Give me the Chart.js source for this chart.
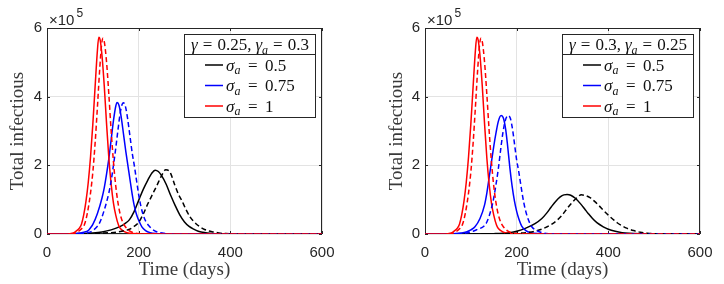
<!DOCTYPE html>
<html>
<head>
<meta charset="utf-8">
<script src="https://cdn.jsdelivr.net/npm/chart.js@4/dist/chart.umd.min.js"></script>
<style>
  html, body { margin: 0; padding: 0; background: #fff; }
  #wrap { position: relative; width: 724px; height: 284px; }
  .panel { position: absolute; top: 0; width: 362px; height: 284px; }
</style>
</head>
<body>
<div id="wrap">
  <div class="panel" style="left:0"><canvas id="left" width="362" height="284"></canvas></div>
  <div class="panel" style="left:362px"><canvas id="right" width="362" height="284"></canvas></div>
</div>
<script>
// values are [day, total infectious / 1e5]
const blackSolidA = [[0,0],[40,0],[60,0.01],[80,0.015],[100,0.03],[120,0.06],[140,0.12],[160,0.22],[170,0.3],[180,0.42],[190,0.65],[200,0.98],[210,1.3],[220,1.57],[228,1.76],[236,1.86],[243,1.82],[250,1.7],[260,1.45],[270,1.12],[280,0.82],[290,0.55],[300,0.35],[310,0.22],[320,0.14],[330,0.08],[340,0.05],[360,0.015],[380,0.003],[400,0],[600,0]];
const blackDashA = [[0,0],[60,0],[80,0.01],[100,0.015],[120,0.025],[140,0.04],[160,0.07],[170,0.1],[180,0.14],[190,0.22],[200,0.34],[210,0.58],[220,0.88],[230,1.15],[240,1.42],[250,1.7],[259,1.87],[266,1.84],[270,1.76],[279,1.42],[287,1.15],[294,0.98],[303,0.72],[312,0.5],[325,0.3],[341,0.15],[350,0.1],[360,0.065],[375,0.032],[390,0.014],[410,0.004],[430,0],[600,0]];
const blueSolidA = [[0,0],[50,0],[60,0.01],[80,0.05],[90,0.1],[95,0.18],[100,0.28],[110,0.6],[120,1.05],[125,1.35],[130,1.75],[135,2.2],[140,2.75],[145,3.3],[150,3.72],[153,3.83],[157,3.75],[162,3.4],[167,2.9],[172,2.4],[177,1.95],[182,1.5],[186,1.15],[190,0.85],[195,0.58],[200,0.4],[207,0.21],[215,0.1],[225,0.04],[240,0.01],[260,0],[600,0]];
const blueDashA = [[0,0],[60,0],[70,0.01],[90,0.04],[100,0.1],[109,0.21],[115,0.33],[125,0.7],[135,1.2],[140,1.55],[145,2.0],[150,2.5],[155,3.05],[160,3.55],[164,3.78],[167,3.82],[171,3.72],[176,3.35],[181,2.85],[186,2.35],[191,1.95],[196,1.5],[200,1.15],[205,0.8],[210,0.55],[215,0.38],[225,0.2],[235,0.09],[245,0.04],[260,0.012],[280,0],[600,0]];
const redSolidA = [[0,0],[45,0],[55,0.02],[60,0.05],[65,0.1],[70,0.16],[75,0.28],[80,0.55],[85,0.95],[90,1.5],[95,2.25],[100,3.2],[105,4.3],[110,5.35],[113,5.73],[116,5.65],[120,5.2],[125,4.3],[130,3.2],[135,2.2],[140,1.45],[145,0.9],[150,0.55],[156,0.26],[160,0.16],[170,0.06],[180,0.02],[200,0.003],[220,0],[600,0]];
const redDashA = [[0,0],[50,0],[60,0.02],[65,0.05],[70,0.09],[75,0.15],[80,0.22],[85,0.42],[90,0.75],[95,1.2],[100,1.8],[105,2.65],[110,3.7],[115,4.8],[119,5.5],[122,5.7],[125,5.6],[130,5.0],[135,4.05],[140,3.0],[145,2.1],[150,1.4],[155,0.9],[160,0.56],[166,0.32],[171,0.21],[180,0.09],[190,0.035],[205,0.008],[220,0],[600,0]];

const blackSolidB = [[0,0],[100,0],[130,0.005],[150,0.01],[170,0.02],[185,0.04],[200,0.08],[220,0.17],[240,0.3],[255,0.45],[265,0.6],[275,0.78],[285,0.95],[295,1.08],[303,1.14],[310,1.15],[318,1.13],[328,1.04],[340,0.87],[350,0.7],[356,0.6],[365,0.46],[375,0.33],[389,0.21],[400,0.14],[415,0.08],[430,0.04],[445,0.02],[470,0.005],[500,0],[600,0]];
const blackDashB = [[0,0],[130,0],[160,0.005],[180,0.01],[200,0.02],[220,0.04],[240,0.08],[255,0.14],[265,0.2],[276,0.28],[288,0.4],[298,0.53],[310,0.74],[320,0.9],[330,1.04],[341,1.14],[350,1.12],[360,1.06],[370,0.95],[380,0.82],[390,0.68],[400,0.55],[410,0.43],[420,0.32],[430,0.24],[440,0.17],[455,0.1],[470,0.05],[485,0.025],[500,0.01],[520,0.002],[540,0],[600,0]];
const blueSolidB = [[0,0],[50,0],[60,0.01],[80,0.03],[90,0.06],[100,0.12],[109,0.21],[120,0.45],[130,0.85],[135,1.2],[140,1.65],[145,2.1],[150,2.55],[155,2.95],[160,3.28],[166,3.45],[171,3.38],[176,3.05],[180,2.6],[185,1.95],[190,1.4],[195,0.97],[200,0.66],[205,0.43],[211,0.23],[220,0.1],[230,0.04],[250,0.01],[280,0],[600,0]];
const blueDashB = [[0,0],[60,0],[70,0.01],[90,0.03],[105,0.08],[115,0.14],[127,0.21],[135,0.35],[145,0.75],[150,1.05],[155,1.45],[160,1.9],[165,2.45],[170,2.95],[175,3.3],[181,3.45],[186,3.38],[191,3.05],[196,2.55],[200,2.15],[204,1.86],[210,1.35],[215,0.95],[220,0.65],[226,0.4],[233,0.21],[245,0.09],[255,0.04],[270,0.01],[290,0],[600,0]];
const redSolidB = [[0,0],[45,0],[55,0.02],[60,0.05],[65,0.1],[70,0.16],[75,0.28],[80,0.55],[85,0.95],[90,1.5],[95,2.25],[100,3.2],[105,4.3],[110,5.35],[113,5.73],[116,5.65],[120,5.2],[125,4.3],[130,3.2],[135,2.2],[140,1.45],[145,0.9],[150,0.55],[156,0.26],[160,0.16],[170,0.06],[180,0.02],[200,0.003],[220,0],[600,0]];
const redDashB = [[0,0],[50,0],[60,0.02],[65,0.05],[70,0.09],[75,0.15],[80,0.22],[85,0.42],[90,0.75],[95,1.2],[100,1.8],[105,2.65],[110,3.7],[115,4.8],[119,5.5],[122,5.7],[125,5.6],[130,5.0],[135,4.05],[140,3.0],[145,2.1],[150,1.4],[155,0.9],[160,0.56],[166,0.32],[171,0.21],[180,0.09],[190,0.035],[205,0.008],[220,0],[600,0]];

const xTicks = [0, 200, 400, 600];
const yTicks = [0, 2, 4, 6];
const sigmaLabels = ['0.5', '0.75', '1'];
const gammaA = ['0.25', '0.3'];
const gammaB = ['0.3', '0.25'];
const colors = ['#000000', '#0000ff', '#ff0000'];

const axisColor = '#262626';
const sans = '"Liberation Sans", Arial, sans-serif';
const serif = '"Liberation Serif", "Times New Roman", serif';
const MS = 17;   // legend math font size

// parts: [kind, text]; kind i = italic, r = roman, s = italic subscript, g = gap in px
function mathFont(kind, size) {
  if (kind === 'r') return size + 'px ' + serif;
  if (kind === 's') return 'italic ' + Math.round(size * 0.7) + 'px ' + serif;
  return 'italic ' + size + 'px ' + serif;
}
function partWidth(ctx, k, t, size) {
  if (k === 'g') return t;
  ctx.font = mathFont(k, size);
  return ctx.measureText(t).width;
}
function mathWidth(ctx, parts, size) {
  return parts.reduce((w, [k, t]) => w + partWidth(ctx, k, t, size), 0);
}
function drawMath(ctx, parts, x, y, size) {
  ctx.textBaseline = 'alphabetic';
  ctx.textAlign = 'left';
  for (const [k, t] of parts) {
    if (k !== 'g') {
      ctx.font = mathFont(k, size);
      ctx.fillText(t, x, k === 's' ? y + size * 0.22 : y);
    }
    x += partWidth(ctx, k, t, size);
  }
}

const frame = {
  id: 'frame',
  beforeDatasetsDraw(chart) {
    const {ctx, chartArea: a, scales: {x, y}} = chart;
    ctx.save();
    ctx.strokeStyle = axisColor;
    ctx.lineWidth = 1;
    ctx.strokeRect(a.left + 0.5, a.top + 0.5, a.right - a.left - 1, a.bottom - a.top - 1);
    ctx.beginPath();
    xTicks.forEach(v => {
      const p = Math.round(x.getPixelForValue(v)) + 0.5;
      ctx.moveTo(p, a.bottom); ctx.lineTo(p, a.bottom - 3);
      ctx.moveTo(p, a.top); ctx.lineTo(p, a.top + 3);
    });
    yTicks.forEach(v => {
      const p = Math.round(y.getPixelForValue(v)) + 0.5;
      ctx.moveTo(a.left, p); ctx.lineTo(a.left + 3, p);
      ctx.moveTo(a.right, p); ctx.lineTo(a.right - 3, p);
    });
    ctx.stroke();
    ctx.restore();
  },
  afterDatasetsDraw(chart) {
    const {ctx, chartArea: a} = chart;
    const g = chart.options.plugins.frame.gamma;
    const w = 132, h = 84;
    const bx = a.right - 6 - w, by = a.top + 6;
    ctx.save();
    ctx.fillStyle = '#fff';
    ctx.fillRect(bx, by, w, h);
    ctx.strokeStyle = axisColor;
    ctx.lineWidth = 1;
    ctx.strokeRect(bx + 0.5, by + 0.5, w - 1, h - 1);
    ctx.beginPath();
    ctx.moveTo(bx, by + 20.5); ctx.lineTo(bx + w, by + 20.5);
    ctx.stroke();
    ctx.fillStyle = '#111';
    const title = [['i', 'γ'], ['g', 5], ['r', '='], ['g', 5], ['r', g[0] + ','], ['g', 4],
                   ['i', 'γ'], ['s', 'a'], ['g', 5], ['r', '='], ['g', 5], ['r', g[1]]];
    const tw = mathWidth(ctx, title, MS);
    drawMath(ctx, title, bx + (w - tw) / 2, by + 16, MS);
    sigmaLabels.forEach((s, i) => {
      const cy = by + 31 + i * 20.5;
      ctx.strokeStyle = colors[i];
      ctx.lineWidth = 1.5;
      ctx.beginPath();
      ctx.moveTo(bx + 21, cy); ctx.lineTo(bx + 39, cy);
      ctx.stroke();
      ctx.fillStyle = '#111';
      drawMath(ctx, [['i', 'σ'], ['s', 'a'], ['g', 7.5], ['r', '='], ['g', 7.5], ['r', s]], bx + 42, cy + 5.5, MS);
    });
    ctx.restore();
  },
  afterDraw(chart) {
    const {ctx, chartArea: a} = chart;
    ctx.save();
    ctx.fillStyle = axisColor;
    ctx.textBaseline = 'alphabetic';
    ctx.font = '15px ' + sans;
    ctx.fillText('×10', a.left + 2, 25);
    const tw = ctx.measureText('×10').width;
    ctx.font = '12px ' + sans;
    ctx.fillText('5', a.left + 4 + tw, 17);
    ctx.restore();
  }
};

function series(sets) {
  return sets.map((d, i) => ({
    data: d,
    borderColor: colors[i % 3],
    borderWidth: 1.5,
    borderDash: i >= 3 ? [5, 3] : [],
    pointRadius: 0,
    fill: false,
    cubicInterpolationMode: 'monotone',
    order: 5 - i
  }));
}

function makeChart(id, sets, gamma, axisW, padR, titleOff) {
  return new Chart(id, {
    type: 'line',
    data: { datasets: series(sets) },
    options: {
      responsive: false,
      animation: false,
      layout: { padding: { top: 28, right: padR, bottom: 0, left: 0 } },
      plugins: {
        legend: { display: false },
        tooltip: { enabled: false },
        frame: { gamma: gamma }
      },
      scales: {
        x: {
          type: 'linear', min: 0, max: 600,
          afterBuildTicks: s => { s.ticks = xTicks.map(v => ({ value: v })); },
          afterFit: s => { s.height = 50; },
          grid: { color: '#e3e3e3', drawTicks: false },
          border: { display: false },
          ticks: { padding: 10, color: axisColor, font: { family: sans, size: 15 }, maxRotation: 0 },
          title: { display: true, text: 'Time (days)', color: '#3a3a3a', font: { family: serif, size: 19 }, padding: { top: 0, bottom: 3 } }
        },
        y: {
          type: 'linear', min: 0, max: 6,
          afterBuildTicks: s => { s.ticks = yTicks.map(v => ({ value: v })); },
          afterFit: s => { s.width = axisW; },
          grid: { color: '#e3e3e3', drawTicks: false },
          border: { display: false },
          ticks: { padding: 5, color: axisColor, font: { family: sans, size: 15 } },
          title: { display: true, text: 'Total infectious', color: '#3a3a3a', font: { family: serif, size: 19 }, padding: { top: titleOff, bottom: 0 } }
        }
      }
    },
    plugins: [frame]
  });
}

makeChart('left', [blackSolidA, blueSolidA, redSolidA, blackDashA, blueDashA, redDashA], gammaA, 47, 40, 6.6);
makeChart('right', [blackSolidB, blueSolidB, redSolidB, blackDashB, blueDashB, redDashB], gammaB, 63, 24, 23.6);
</script>
</body>
</html>
